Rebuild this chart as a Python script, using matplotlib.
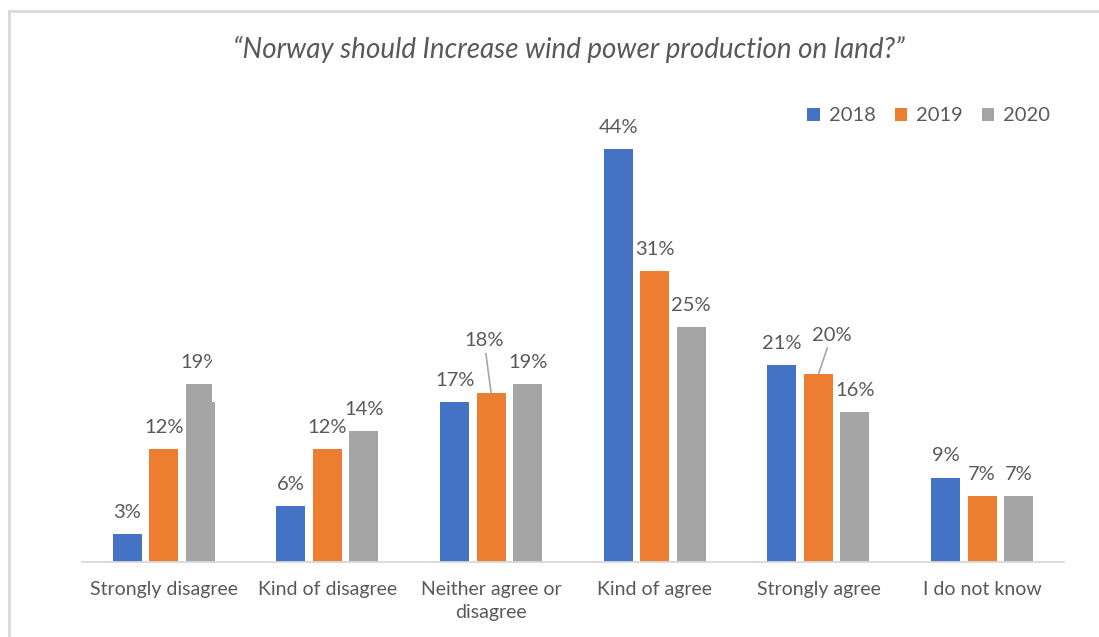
import matplotlib
matplotlib.use("Agg")
import matplotlib.pyplot as plt
from matplotlib.patches import Rectangle
from matplotlib.lines import Line2D
import numpy as np

plt.rcParams['font.family'] = ['Lato', 'DejaVu Sans']

categories = ["Strongly disagree", "Kind of disagree", "Neither agree or\ndisagree",
              "Kind of agree", "Strongly agree", "I do not know"]
years = ["2018", "2019", "2020"]
values_2018 = [3, 6, 17, 44, 21, 9]
values_2019 = [12, 12, 18, 31, 20, 7]
values_2020 = [19, 14, 19, 25, 16, 7]
colors = ["#4472C4", "#ED7D31", "#A5A5A5"]
title = "\u201cNorway should Increase wind power production on land?\u201d"

text_color = "#595959"
series = [values_2018, values_2019, values_2020]

fig = plt.figure(figsize=(10.99, 6.37), dpi=100)
ax = fig.add_axes([0.0746, 0.1177, 0.8935, 0.737])

x = np.arange(len(categories))
step = 0.223
width = 0.177

for j, (vals, col) in enumerate(zip(series, colors)):
    ax.bar(x + (j - 1) * step, vals, width=width, color=col, zorder=2)

# data labels; a few use a leader line
label_size = 14.5
leader = {(1, 2): (-5.0, 37.5), (1, 4): (9.4, 28.0)}
for j, vals in enumerate(series):
    for i, v in enumerate(vals):
        cx = x[i] + (j - 1) * step
        if (j, i) in leader:
            dx, dy = leader[(j, i)]
            ax.annotate(f"{v}%", xy=(cx, v), xytext=(dx, dy), textcoords="offset points",
                        ha="center", va="center", fontsize=label_size, color=text_color,
                        arrowprops=dict(arrowstyle="-", color="#a6a6a6", lw=1.2,
                                        shrinkA=1, shrinkB=0), zorder=4)
        else:
            ax.annotate(f"{v}%", xy=(cx, v), xytext=(0, 15.5), textcoords="offset points",
                        ha="center", va="center", fontsize=label_size, color=text_color,
                        zorder=4)

# the 2020 label over the first group is cut off on its right side
v0 = values_2020[0]
right_edge = x[0] + step + width / 2
ax.add_patch(Rectangle((right_edge - 0.018, v0 - 1.95), 0.2, 7.0,
                       facecolor="white", edgecolor="none", zorder=5))

ax.set_xlim(-0.5, len(categories) - 0.5)
ax.set_ylim(0, 50)
ax.set_xticks(x)
ax.set_xticklabels(categories, fontsize=14, color=text_color, linespacing=1.4)
ax.tick_params(axis="x", length=0, pad=14)
ax.set_yticks([])
for s in ["top", "right", "left"]:
    ax.spines[s].set_visible(False)
ax.spines["bottom"].set_color("#d9d9d9")
ax.spines["bottom"].set_linewidth(1.3)
ax.spines["bottom"].set_zorder(3)

fig.text(0.518, 0.922, title, ha="center", va="center", fontsize=20,
         style="italic", color=text_color)

handles = [Rectangle((0, 0), 1, 1, facecolor=c, edgecolor="none") for c in colors]
fig.legend(handles, years, loc="center", bbox_to_anchor=(0.845, 0.818), ncol=3,
           frameon=False, fontsize=14.5, labelcolor=text_color,
           handlelength=0.6, handleheight=0.6, handletextpad=0.45, columnspacing=0.95)

# light frame along top and left
fig.add_artist(Line2D([8.5 / 1099, 1.0], [1 - 10.5 / 637, 1 - 10.5 / 637],
                      transform=fig.transFigure, color="#d9d9d9", lw=2))
fig.add_artist(Line2D([8.5 / 1099, 8.5 / 1099], [0.0, 1 - 10.5 / 637],
                      transform=fig.transFigure, color="#d9d9d9", lw=2))

fig.savefig("out.png", dpi=100, facecolor="white")
